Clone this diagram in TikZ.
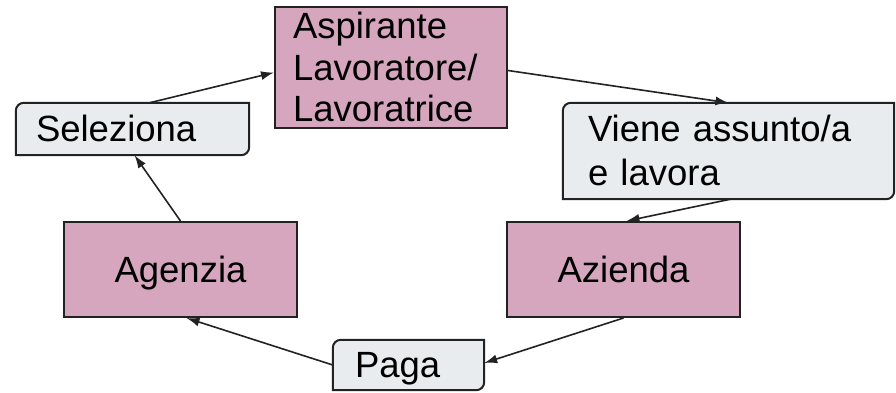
\documentclass[tikz,border=0pt]{standalone}
\usepackage{fontspec}
\setmainfont{Liberation Sans}
\usetikzlibrary{arrows.meta,backgrounds}
\definecolor{boxpink}{HTML}{D5A6BD}
\definecolor{notegray}{HTML}{E8ECEE}
\definecolor{edgegray}{HTML}{222222}
\tikzstyle{base}=[inner ysep=0pt,font=\fontsize{36.5}{42}\selectfont,text height=32.6pt,text depth=7.6pt]
\tikzstyle{party}=[base,rectangle,draw=edgegray,line width=2pt,fill=boxpink,minimum width=233pt,minimum height=95pt,align=center]
\tikzstyle{action}=[base,rectangle,align=left]
\tikzstyle{outline}=[draw=edgegray,line width=2pt,fill=notegray]
\tikzstyle{flow}=[-{Latex[length=13pt,width=9pt]},line width=1.6pt,draw=edgegray]

\begin{document}
\begin{tikzpicture}[x=1pt,y=1pt]
  \useasboundingbox (0,0) rectangle (896,392);
  \node[party,minimum width=232pt,minimum height=121pt,inner xsep=18pt,text width=196pt,align=left,
        font=\fontsize{36.5}{41.5}\selectfont,text height=31.5pt,text depth=89.5pt] (asp) at (391,324.5)
        {Aspirante\\Lavoratore/\\Lavoratrice};
  \node[action,minimum height=52pt,inner xsep=20pt,text width=193pt] (sel) at (132.5,263) {Seleziona};
  \node[action,minimum height=96pt,inner xsep=25pt,text width=281pt,
        font=\fontsize{36.5}{44}\selectfont,text depth=51.6pt] (vie) at (728.5,241) {Viene assunto/a\\e lavora};
  \node[party] (age) at (180.5,122.5) {Agenzia};
  \node[party] (azi) at (623.5,122.5) {Azienda};
  \node[action,minimum height=50pt,inner xsep=22pt,text width=107pt] (pag) at (408.5,27) {Paga};

  \begin{scope}[on background layer]
    \foreach \n in {sel,vie,pag}
      \draw[outline] ([yshift=-8pt]\n.north west) arc[start angle=180,end angle=90,radius=8pt]
        -- (\n.north east) -- ([yshift=8pt]\n.south east) arc[start angle=0,end angle=-90,radius=8pt]
        -- (\n.south west) -- cycle;
  \end{scope}

  \draw[flow] ([xshift=17pt]sel.north) -- ([yshift=-5pt]asp.west);
  \draw[flow] ([yshift=-3pt]asp.east) -- (vie.north);
  \draw[flow] ([xshift=2pt]vie.south) -- ([xshift=3pt]azi.north);
  \draw[flow] (azi.south) -- ([yshift=2pt]pag.east);
  \draw[flow] (pag.west) -- ([xshift=6pt]age.south);
  \draw[flow] (age.north) -- ([xshift=2pt]sel.south);
\end{tikzpicture}
\end{document}
